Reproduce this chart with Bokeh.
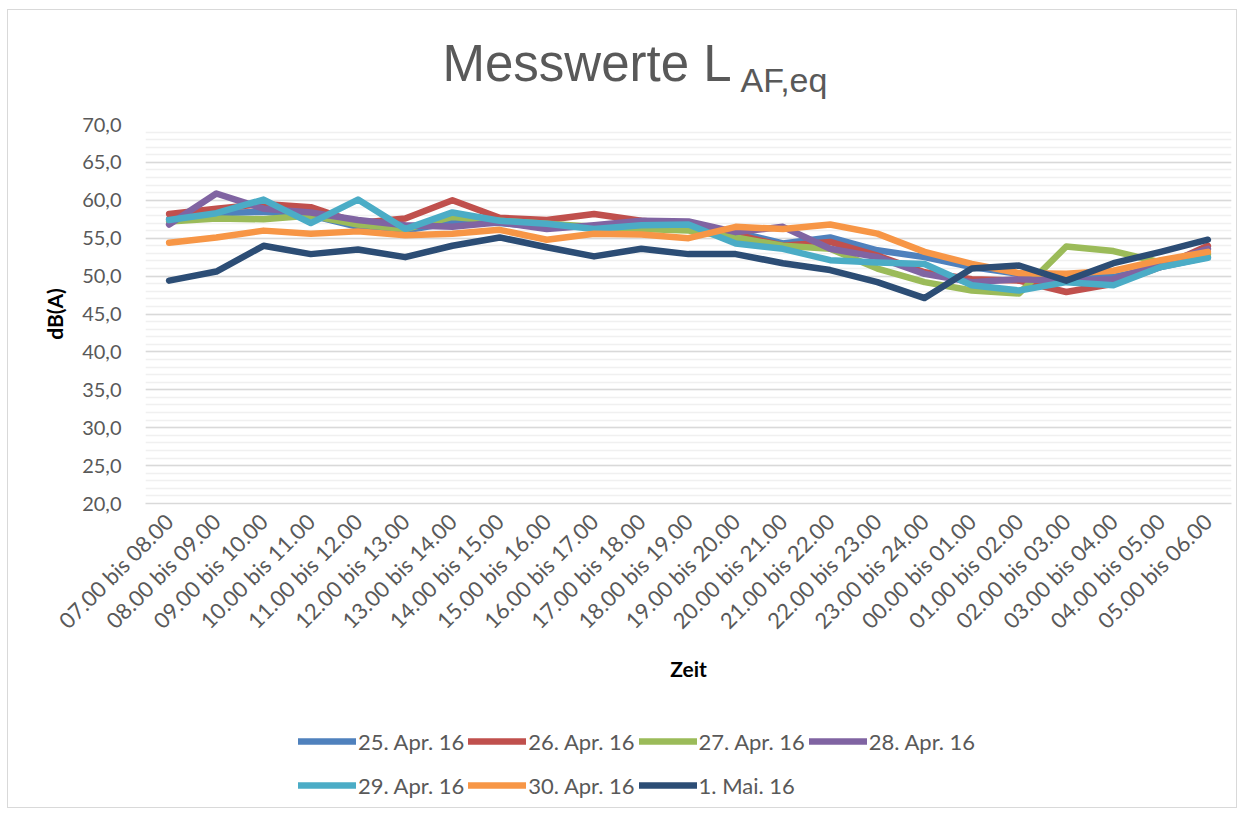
from bokeh.plotting import figure
from bokeh.layouts import column
from bokeh.models import (Legend, LegendItem, Label, SingleIntervalTicker,
                          CustomJSTickFormatter, Range1d, FactorRange)
from bokeh.embed import file_html
from bokeh.resources import INLINE
import math

categories = ["07.00 bis 08.00", "08.00 bis 09.00", "09.00 bis 10.00", "10.00 bis 11.00",
              "11.00 bis 12.00", "12.00 bis 13.00", "13.00 bis 14.00", "14.00 bis 15.00",
              "15.00 bis 16.00", "16.00 bis 17.00", "17.00 bis 18.00", "18.00 bis 19.00",
              "19.00 bis 20.00", "20.00 bis 21.00", "21.00 bis 22.00", "22.00 bis 23.00",
              "23.00 bis 24.00", "00.00 bis 01.00", "01.00 bis 02.00", "02.00 bis 03.00",
              "03.00 bis 04.00", "04.00 bis 05.00", "05.00 bis 06.00"]

series_names = ["25. Apr. 16", "26. Apr. 16", "27. Apr. 16", "28. Apr. 16",
                "29. Apr. 16", "30. Apr. 16", "1. Mai. 16"]

apr25 = [57.5, 58.3, 58.5, 58.0, 56.5, 56.0, 57.1, 57.0, 56.5, 56.5, 57.0, 56.8,
         55.8, 54.3, 55.1, 53.4, 52.5, 51.2, 50.3, 49.9, 49.9, 51.2, 52.5]
apr26 = [58.2, 58.9, 59.5, 59.1, 57.0, 57.6, 60.0, 57.7, 57.4, 58.2, 57.3, 56.8,
         55.5, 54.0, 54.5, 52.7, 50.5, 49.6, 49.4, 47.9, 49.0, 51.2, 54.0]
apr27 = [57.2, 57.6, 57.5, 58.0, 56.8, 56.2, 57.8, 57.3, 56.9, 56.5, 56.2, 56.0,
         55.1, 54.0, 53.6, 51.0, 49.2, 48.1, 47.7, 53.9, 53.3, 51.8, 52.9]
apr28 = [56.8, 60.9, 58.9, 58.4, 57.4, 56.7, 56.5, 57.1, 56.2, 56.7, 57.3, 57.2,
         55.8, 56.5, 53.6, 52.5, 50.3, 49.2, 49.6, 49.4, 49.6, 51.6, 53.6]
apr29 = [57.4, 58.3, 60.1, 57.0, 60.1, 56.2, 58.4, 57.3, 56.9, 56.2, 56.7, 56.8,
         54.3, 53.6, 52.1, 51.8, 51.6, 48.8, 48.1, 49.2, 48.8, 51.2, 52.4]
apr30 = [54.4, 55.1, 56.0, 55.6, 55.9, 55.4, 55.6, 56.1, 54.8, 55.6, 55.5, 55.0,
         56.5, 56.2, 56.8, 55.6, 53.2, 51.6, 50.4, 50.3, 50.7, 52.1, 53.2]
mai01 = [49.4, 50.6, 54.0, 52.9, 53.5, 52.5, 54.0, 55.1, 53.8, 52.6, 53.6, 52.9,
         52.9, 51.7, 50.8, 49.2, 47.1, 51.0, 51.4, 49.4, 51.7, 53.2, 54.8]

colors = ["#4F81BD", "#C0504D", "#9BBB59", "#8064A2", "#4BACC6", "#F79646", "#2C4D75"]
all_series = [apr25, apr26, apr27, apr28, apr29, apr30, mai01]

FONT = "Lato"
GREY = "#595959"
W = 1228
LEFT, RIGHT = 137, 5
FRAME_W = W - LEFT - RIGHT


def blank_fig(h, x_range, y_range):
    f = figure(width=W, height=h, x_range=x_range, y_range=y_range,
               output_backend="svg", toolbar_location=None, x_axis_type=None,
               y_axis_type=None, title=None, min_border_left=LEFT,
               min_border_right=RIGHT, min_border_top=0, min_border_bottom=0)
    f.grid.visible = False
    f.outline_line_color = None
    f.background_fill_color = "white"
    f.border_fill_color = "white"
    return f


# ---- title ----
tf = blank_fig(99, Range1d(0, FRAME_W), Range1d(0, 99))
tf.add_layout(Label(x=297, y=46, text="Messwerte L", text_font="Liberation Sans",
                    text_font_size="51px", text_color=GREY,
                    text_baseline="alphabetic", text_align="left"))
tf.add_layout(Label(x=595, y=30, text="AF,eq", text_font="Liberation Sans",
                    text_font_size="34px", text_color=GREY,
                    text_baseline="alphabetic", text_align="left"))

# ---- main chart ----
p = figure(x_range=FactorRange(*categories), y_range=Range1d(20, 70),
           width=W, height=591, output_backend="svg", toolbar_location=None,
           min_border_left=LEFT, min_border_right=RIGHT, min_border_top=15,
           min_border_bottom=197)
p.outline_line_color = None
p.background_fill_color = "white"
p.border_fill_color = "white"

p.yaxis.ticker = SingleIntervalTicker(interval=5, num_minor_ticks=5)
p.yaxis.formatter = CustomJSTickFormatter(code="return tick.toFixed(1).replace('.', ',');")
p.yaxis.axis_line_color = None
p.yaxis.major_tick_line_color = None
p.yaxis.minor_tick_line_color = None
p.yaxis.major_label_standoff = 18
p.yaxis.major_label_text_font = FONT
p.yaxis.major_label_text_font_size = "20px"
p.yaxis.major_label_text_color = GREY
p.yaxis.axis_label = "dB(A)"
p.yaxis.axis_label_text_font = FONT
p.yaxis.axis_label_text_font_style = "bold"
p.yaxis.axis_label_text_font_size = "21px"
p.yaxis.axis_label_text_color = "black"
p.yaxis.axis_label_standoff = 12

p.ygrid.grid_line_color = "#d9d9d9"
p.ygrid.grid_line_width = 1.5
p.ygrid.minor_grid_line_color = "#f0f0f0"
p.ygrid.minor_grid_line_width = 1.5
p.xgrid.grid_line_color = None

p.xaxis.axis_line_color = "#d9d9d9"
p.xaxis.axis_line_width = 1.5
p.xaxis.major_tick_line_color = None
p.xaxis.minor_tick_line_color = None
p.xaxis.major_label_orientation = math.pi / 4
p.xaxis.major_label_standoff = 8
p.xaxis.major_label_text_font = FONT
p.xaxis.major_label_text_font_size = "22px"
p.xaxis.major_label_text_color = GREY
p.xaxis.axis_label = "Zeit"
p.xaxis.axis_label_text_font = FONT
p.xaxis.axis_label_text_font_style = "bold"
p.xaxis.axis_label_text_font_size = "21px"
p.xaxis.axis_label_text_color = "black"
p.xaxis.axis_label_standoff = 10

for vals, col in zip(all_series, colors):
    p.line(categories, vals, line_color=col, line_width=6.5,
           line_join="round", line_cap="round")

# ---- legend (own strip below the chart; its copies of the lines lie out of view) ----
lf = blank_fig(107, FactorRange(*categories), Range1d(100, 200))
items = []
for name, vals, col in zip(series_names, all_series, colors):
    r = lf.line(categories, vals, line_color=col, line_width=6.5, line_cap="round")
    items.append(LegendItem(label=name, renderers=[r]))
legend = Legend(items=items, location=(153, 2), orientation="horizontal", ncols=4,
                glyph_width=58, glyph_height=40, label_height=40, label_standoff=2,
                spacing=4, padding=0, margin=0, border_line_color=None,
                background_fill_alpha=0, label_text_font=FONT,
                label_text_font_size="22px", label_text_color=GREY)
lf.add_layout(legend, "center")

layout = column(tf, p, lf, spacing=0)
layout.margin = (9, 0, 0, 7)
layout.styles = {"border": "1px solid #d9d9d9"}

open("out.html", "w").write(file_html(layout, INLINE))
